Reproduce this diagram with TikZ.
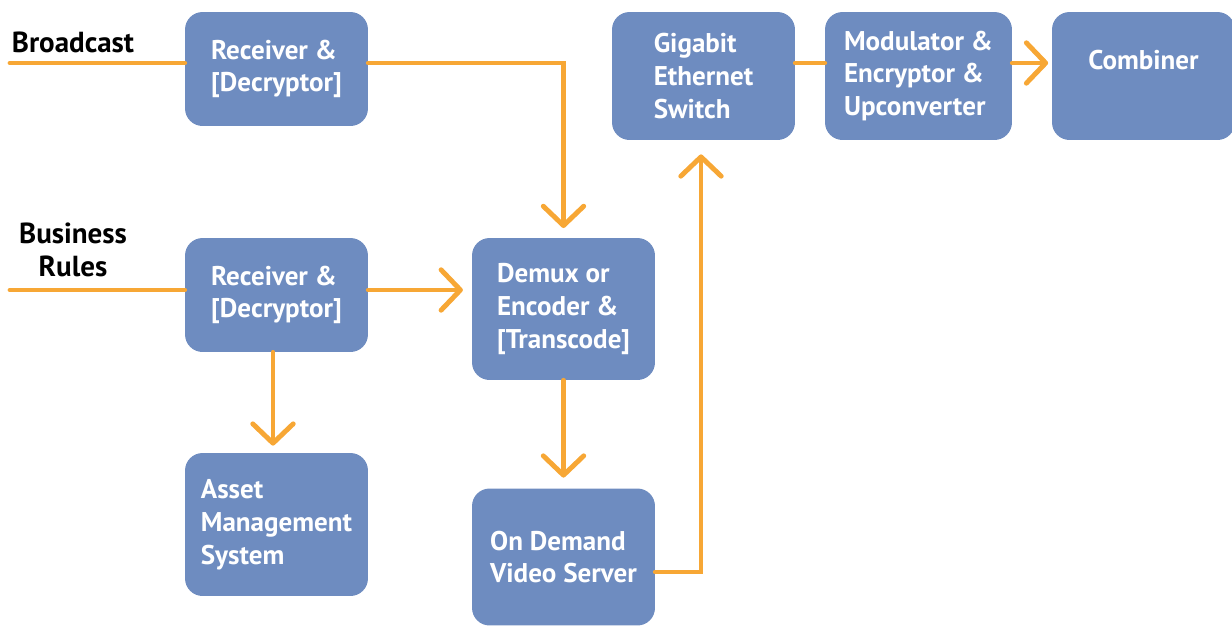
\documentclass[tikz,border=0pt]{standalone}
\usepackage{fontspec}
\setmainfont{PT Sans}
\usetikzlibrary{arrows.meta}
\definecolor{boxblue}{RGB}{110,140,192}
\definecolor{floworange}{RGB}{247,167,53}

\begin{document}
\begin{tikzpicture}[x=0.02cm, y=-0.02cm,
  >={Straight Barb[length=11pt, width=23pt, line cap=round, line join=round]},
  box/.style={rounded corners=10pt, fill=boxblue, text=white, align=left,
    font=\bfseries\fontsize{15.4}{18.7}\selectfont, minimum width=3.66cm, inner sep=0pt},
  flow/.style={floworange, line width=2.8pt, line cap=round},
  tag/.style={font=\bfseries\fontsize{16.5}{18.7}\selectfont, align=center}]
% page frame
\clip (0,0) rectangle (1232,626);
% blocks
\node[box, minimum height=2.28cm] (rx1) at (276.5,69) {Receiver \&\\{}[Decryptor]};
\node[box, minimum height=2.28cm] (rx2) at (276.5,295) {Receiver \&\\{}[Decryptor]};
\node[box, minimum height=2.86cm] (ams) at (276.5,524.5) {Asset\\Management\\System};
\node[box, minimum height=2.84cm] (dmx) at (563.5,309) {Demux or\\Encoder \&\\{}[Transcode]};
\node[box, minimum height=2.74cm] (vod) at (563.5,557) {On Demand\\Video Server};
\node[box, minimum height=2.56cm] (gig) at (703.5,76) {Gigabit\\Ethernet\\Switch};
\node[box, minimum height=2.56cm, minimum width=3.74cm] (mod) at (918.5,76) {Modulator \&\\Encryptor \&\\Upconverter};
\node[box, minimum height=2.56cm] (cmb) at (1143.5,76) {Combiner\\\mbox{}};
% inputs
\node[tag] (bcast) at (73,42) {Broadcast};
\node[tag] (rules) at (73,250) {Business\\Rules};
\coordinate (bcin) at (10,63);
\coordinate (brin) at (10,290);
\coordinate (vodout) at (701,572);
% signal flow
\draw[flow] (bcin) -- (bcin -| rx1.west);
\draw[flow] (brin) -- (brin -| rx2.west);
\draw[flow,->,shorten >=5.5pt] (bcin -| rx1.east) -| (dmx.north);
\draw[flow,->,shorten >=5pt] (brin -| rx2.east) -- (brin -| dmx.west);
\draw[flow,->,shorten >=4pt] (rx2.south -| 273,0) -- (ams.north -| 273,0);
\draw[flow,->,shorten >=6pt] (dmx.south) -- (vod.north);
\draw[flow,->,shorten >=8pt] (vodout -| vod.east) -- (vodout) -- (vodout |- gig.south);
\draw[flow] (bcin -| gig.east) -- (bcin -| mod.west);
\draw[flow,->,shorten >=2pt] (bcin -| mod.east) -- (bcin -| cmb.west);
\end{tikzpicture}
\end{document}
